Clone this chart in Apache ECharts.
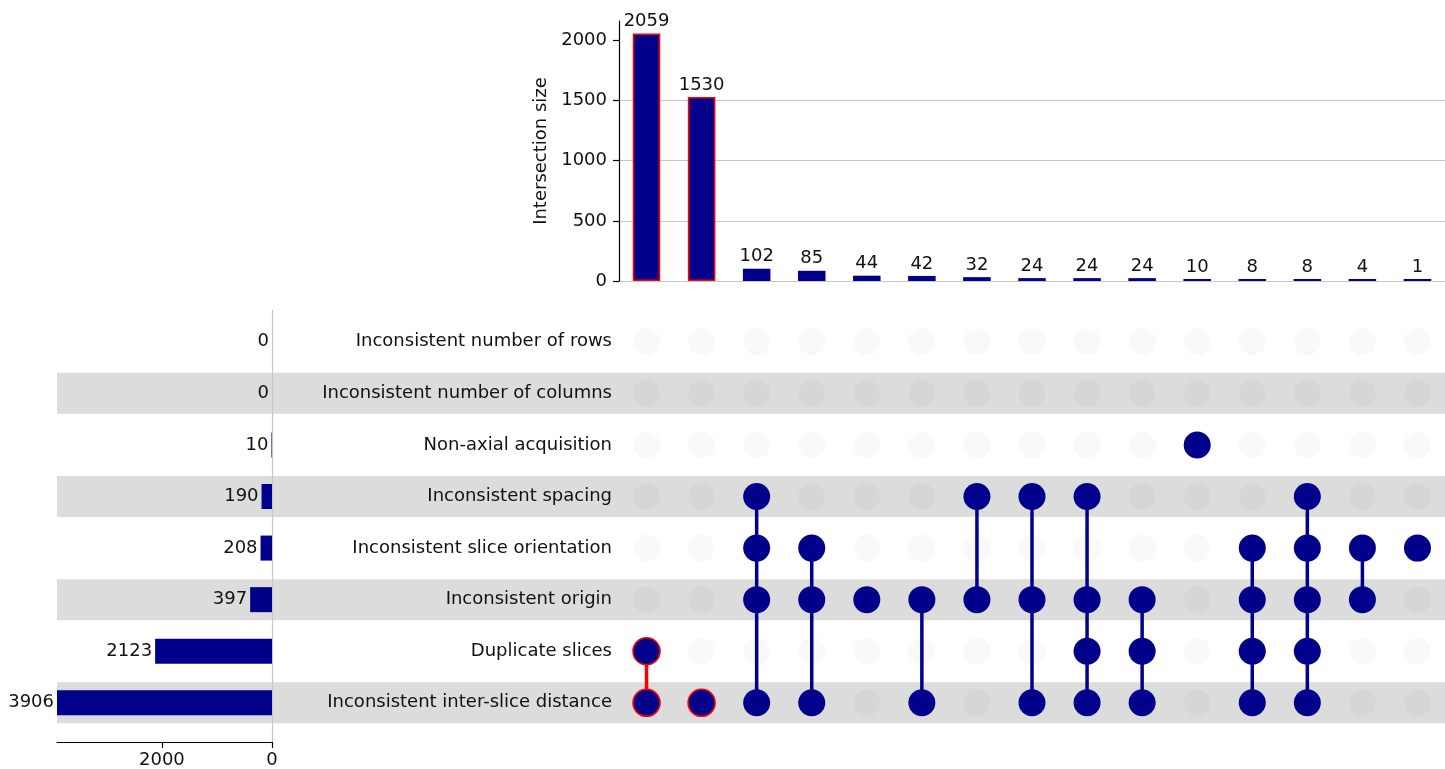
<!DOCTYPE html>
<html>
<head>
<meta charset="utf-8">
<script src="https://cdn.jsdelivr.net/npm/echarts@6/dist/echarts.min.js"></script>
<style>html,body{margin:0;padding:0;background:#fff}#c{width:1445px;height:769px}</style>
</head>
<body>
<div id="c"></div>
<script>
// ---- data ----
const setNames = [
  'Inconsistent number of rows',
  'Inconsistent number of columns',
  'Non-axial acquisition',
  'Inconsistent spacing',
  'Inconsistent slice orientation',
  'Inconsistent origin',
  'Duplicate slices',
  'Inconsistent inter-slice distance'
];
const setSizes = [0, 0, 10, 190, 208, 397, 2123, 3906];
const intersectionSizes = [2059, 1530, 102, 85, 44, 42, 32, 24, 24, 24, 10, 8, 8, 4, 1];
// row indices (into setNames) belonging to each intersection
const intersectionMembers = [
  [6, 7], [7], [3, 4, 5, 7], [4, 5, 7], [5], [5, 7], [3, 5], [3, 5, 7],
  [3, 5, 6, 7], [5, 6, 7], [2], [4, 5, 6, 7], [3, 4, 5, 6, 7], [4, 5], [4]
];
const highlighted = [0, 1];
const topTicks = [0, 500, 1000, 1500, 2000];
const leftTicks = [0, 2000];
const stripeRows = [1, 3, 5, 7];

// ---- styles ----
const NAVY = '#00008b';
const RED = '#ff0000';
const FONT = 'DejaVu Sans';
const FS = 18;
const TXT = '#111';
const GRIDC = '#c8c8c8';
const plain = v => String(v);

const colCats = intersectionSizes.map((_, i) => String(i));
const nCols = intersectionSizes.length;
const nRows = setNames.length;

const activeDots = [], inactiveDots = [], connectors = [];
for (let c = 0; c < nCols; c++) {
  const m = intersectionMembers[c];
  const hl = highlighted.includes(c);
  for (let r = 0; r < nRows; r++) {
    if (m.includes(r)) {
      activeDots.push({value: [c, r], itemStyle: hl ? {borderColor: RED, borderWidth: 1.6} : {}});
    } else {
      inactiveDots.push([c, r]);
    }
  }
  if (m.length > 1) connectors.push([c, Math.min(...m), Math.max(...m), hl ? 1 : 0]);
}

const chart = echarts.init(document.getElementById('c'), null, {renderer: 'canvas'});
const MTOP = 316, MH = 412.6;
const option = {
  animation: false,
  textStyle: {fontFamily: FONT},
  grid: [
    {left: 619, top: 21, width: 833, height: 260},
    {left: 619, top: MTOP, width: 833, height: MH},
    {left: 57, top: MTOP, width: 215, height: MH},
    {left: 57, top: 310, width: 215, height: 432.7},
    {left: 57, top: MTOP, width: 1395, height: MH}
  ],
  xAxis: [
    {gridIndex: 0, type: 'category', data: colCats, show: false},
    {gridIndex: 1, type: 'category', data: colCats, show: false},
    {gridIndex: 2, type: 'value', inverse: true, min: 0, max: 3906, show: false},
    {gridIndex: 3, type: 'value', inverse: true, min: 0, max: 3906, interval: 2000,
      axisLine: {show: true, lineStyle: {color: '#000', width: 1.2}},
      axisTick: {show: true, length: 6, customValues: leftTicks, lineStyle: {color: '#000', width: 1.2}},
      axisLabel: {customValues: leftTicks, formatter: plain, fontSize: FS, color: TXT, fontFamily: FONT, margin: 9},
      splitLine: {show: true, showMaxLine: false, lineStyle: {color: GRIDC, width: 1.2}}},
    {gridIndex: 4, type: 'value', min: 0, max: 1, show: false}
  ],
  yAxis: [
    {gridIndex: 0, type: 'value', min: 0, max: 2162, interval: 500,
      name: 'Intersection size', nameLocation: 'middle', nameGap: 55,
      nameTextStyle: {fontSize: FS, color: TXT, fontFamily: FONT},
      axisLine: {show: true, lineStyle: {color: '#000', width: 1.2}},
      axisTick: {show: true, length: 6, customValues: topTicks, lineStyle: {color: '#000', width: 1.2}},
      axisLabel: {customValues: topTicks, formatter: plain, fontSize: FS, color: TXT, fontFamily: FONT, margin: 12},
      splitLine: {show: true, showMaxLine: false, lineStyle: {color: GRIDC, width: 1.2}}},
    {gridIndex: 1, type: 'category', data: setNames, inverse: true,
      axisLine: {show: false}, axisTick: {show: false},
      axisLabel: {fontSize: FS, color: TXT, fontFamily: FONT, margin: 7}},
    {gridIndex: 2, type: 'category', data: setNames, inverse: true, show: false},
    {gridIndex: 3, type: 'value', min: 0, max: 1, show: false},
    {gridIndex: 4, type: 'category', data: setNames, inverse: true, show: false}
  ],
  series: [
    {
      type: 'bar', xAxisIndex: 4, yAxisIndex: 4, z: -1, silent: true,
      barWidth: 41,
      data: setNames.map((_, i) => stripeRows.includes(i) ? 1 : '-'),
      itemStyle: {color: '#dcdcdc'}
    },
    {
      type: 'bar', xAxisIndex: 0, yAxisIndex: 0, barWidth: '50%', barMinHeight: 2,
      data: intersectionSizes.map((v, i) => ({
        value: v,
        itemStyle: highlighted.includes(i) ? {color: NAVY, borderColor: RED, borderWidth: 1.6} : {color: NAVY}
      })),
      label: {show: true, position: 'top', distance: 3, fontSize: FS, color: TXT, fontFamily: FONT}
    },
    {
      type: 'bar', xAxisIndex: 2, yAxisIndex: 2, barWidth: 25,
      data: setSizes,
      itemStyle: {color: NAVY},
      label: {show: true, position: 'left', distance: 3, fontSize: FS, color: TXT, fontFamily: FONT}
    },
    {type: 'scatter', xAxisIndex: 3, yAxisIndex: 3, data: []},
    {
      type: 'scatter', xAxisIndex: 1, yAxisIndex: 1, symbolSize: 27, silent: true,
      data: inactiveDots, itemStyle: {color: 'rgba(0,0,128,0.025)', opacity: 1}
    },
    {
      type: 'custom', xAxisIndex: 1, yAxisIndex: 1, z: 3,
      encode: {x: 0, y: [1, 2]},
      data: connectors,
      renderItem: function (params, api) {
        const c = api.value(0);
        const p0 = api.coord([c, api.value(1)]);
        const p1 = api.coord([c, api.value(2)]);
        return {
          type: 'line',
          shape: {x1: p0[0], y1: p0[1], x2: p1[0], y2: p1[1]},
          style: {stroke: api.value(3) ? RED : NAVY, lineWidth: 3.5}
        };
      }
    },
    {
      type: 'scatter', xAxisIndex: 1, yAxisIndex: 1, symbolSize: 27, z: 4,
      data: activeDots, itemStyle: {color: NAVY, opacity: 1}
    }
  ]
};
chart.setOption(option);
</script>
</body>
</html>
